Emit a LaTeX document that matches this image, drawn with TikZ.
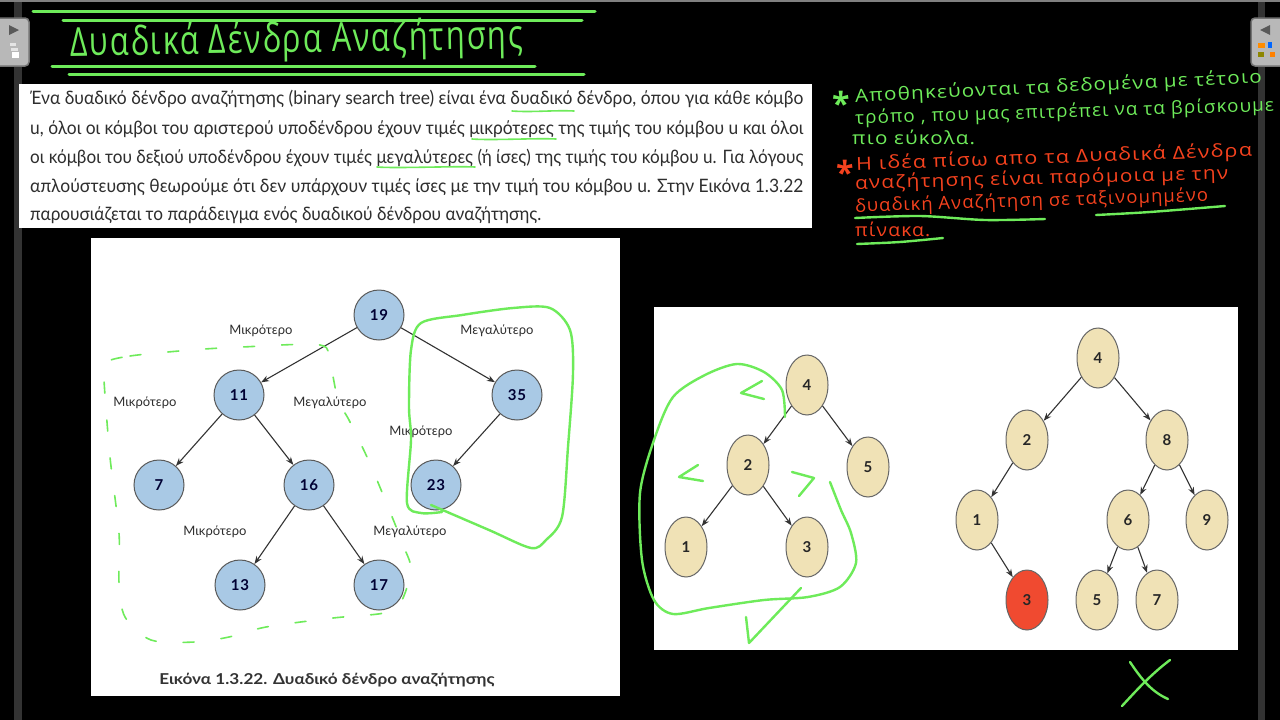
\documentclass[tikz,border=0pt]{standalone}
\usepackage{fontspec}
\usepackage{graphicx}
\setmainfont{Lato}
\newfontfamily\handfont[LetterSpace=6]{Open Sans}
\newfontfamily\numfont[LetterSpace=6]{Lato}
\usetikzlibrary{shapes.geometric, arrows.meta}
\definecolor{handgreen}{HTML}{6EEB5A}
\definecolor{handred}{HTML}{F5421E}
\definecolor{bluefill}{HTML}{A9C9E5}
\definecolor{beigefill}{HTML}{F0E2B6}
\definecolor{redfill}{HTML}{F04A30}
\definecolor{bodyink}{HTML}{2E2E2E}
\newcommand{\fitw}[2]{\resizebox{#1pt}{\height}{#2}}
\tikzset{
	panel/.style={fill=white, draw=none},
	bluenode/.style={circle, minimum size=50pt, inner sep=0pt, fill=bluefill, draw=black!65, line width=1pt, text=black!80!blue, font=\fontsize{15}{15}\numfont\bfseries},
	beigenode/.style={ellipse, minimum width=42pt, minimum height=60pt, inner sep=0pt, fill=beigefill, draw=black!60, line width=1pt, text=black!85, font=\fontsize{15}{15}\selectfont\bfseries},
	treearrow/.style={->, line width=1.1pt, draw=black!80},
	sidelabel/.style={inner sep=0pt, text=bodyink, font=\fontsize{13}{13}\selectfont},
	bodyline/.style={anchor=west, inner sep=0pt, text=bodyink, font=\fontsize{18.5}{18.5}\selectfont},
	handline/.style={anchor=west, inner sep=0pt, font=\fontsize{18}{18}\handfont},
	greenpen/.style={draw=handgreen, line width=2.4pt, line cap=round, line join=round},
	thinpen/.style={draw=handgreen, line width=1.6pt, line cap=round},
	tabbox/.style={fill=black!28, draw=black!55, line width=1.5pt, rounded corners=4pt}
}
\begin{document}
\begin{tikzpicture}[x=1pt, y=-1pt, >={Stealth[length=8pt,width=6pt]}]
	% background and frame of the screen
	\fill[black] (0,0) rectangle (1280,720);
	\useasboundingbox (0,0) rectangle (1280,720);
	\fill[black!50] (0,0) rectangle (1280,2);
	\fill[black!80] (14,2) rectangle (22,720);
	\fill[black!80] (1258,2) rectangle (1265,720);

	% side tabs
	\draw[tabbox] (-6,18) rectangle (29,66);
	\fill[black!65] (9,25) -- (19,30) -- (9,35) -- cycle;
	\fill[black!10] (10,43) rectangle (16,46);
	\fill[black!10] (11,48) rectangle (18,51);
	\fill[white] (12,52) rectangle (19,58);
	\draw[tabbox] (1251,18) rectangle (1286,66);
	\fill[black!65] (1270,25) -- (1260,30) -- (1270,35) -- cycle;
	\fill[orange!90!yellow] (1258,43) rectangle (1265,48);
	\fill[blue!60!cyan] (1268,42) rectangle (1272,48);
	\fill[olive] (1258,52) rectangle (1264,57);
	\fill[orange] (1270,52) rectangle (1275,57);

	% title
	\foreach \xa/\xb/\y in {33/595/11, 63/582/20, 52/535/66, 69/584/74}
		\draw[greenpen, line width=3pt] (\xa,\y) -- (\xb,\y);
	\node[handline, text=handgreen, font=\fontsize{40}{40}\handfont, rotate=1] (title) at (70,45) {\fitw{453}{Δυαδικά Δένδρα Αναζήτησης}};

	% definition text
	\fill[panel] (19,84) rectangle (812,228);
	\node[bodyline] (linea) at (30,99) {\fitw{773}{Ένα δυαδικό δένδρο αναζήτησης (binary search tree) είναι ένα δυαδικό δένδρο, όπου για κάθε κόμβο}};
	\node[bodyline] (lineb) at (30,129) {\fitw{773}{u, όλοι οι κόμβοι του αριστερού υποδένδρου έχουν τιμές μικρότερες της τιμής του κόμβου u και όλοι}};
	\node[bodyline] (linec) at (30,158) {\fitw{773}{οι κόμβοι του δεξιού υποδένδρου έχουν τιμές μεγαλύτερες (ή ίσες) της τιμής του κόμβου u. Για λόγους}};
	\node[bodyline] (lined) at (30,187) {\fitw{773}{απλούστευσης θεωρούμε ότι δεν υπάρχουν τιμές ίσες με την τιμή του κόμβου u. Στην Εικόνα 1.3.22}};
	\node[bodyline] (linee) at (30,215) {\fitw{511}{παρουσιάζεται το παράδειγμα ενός δυαδικού δένδρου αναζήτησης.}};
	\foreach \xa/\xb/\y in {512/574/111, 472/556/139, 377/475/167}
		\draw[thinpen] (\xa,\y) .. controls (\xa+20,\y+1.5) and (\xb-20,\y-1) .. (\xb,\y);

	% notes on the right
	\node[handline, text=handgreen, font=\fontsize{32}{32}\handfont\bfseries] (stara) at (832,103) {*};
	\node[handline, text=handgreen, rotate=2.7] (notea) at (855,97) {\fitw{407}{Αποθηκεύονται τα δεδομένα με τέτοιο}};
	\node[handline, text=handgreen, rotate=1.8] (noteb) at (855,119) {\fitw{419}{τρόπο , που μας επιτρέπει να τα βρίσκουμε}};
	\node[handline, text=handgreen] (notec) at (852,137) {\fitw{123}{πιο εύκολα.}};
	\node[handline, text=handred, font=\fontsize{32}{32}\handfont\bfseries] (starb) at (836,172) {*};
	\node[handline, text=handred, rotate=2] (noted) at (856,165) {\fitw{396}{Η ιδέα πίσω απο τα Δυαδικά Δένδρα}};
	\node[handline, text=handred, rotate=1.5] (notee) at (855,184) {\fitw{373}{αναζήτησης είναι παρόμοια με την}};
	\node[handline, text=handred, rotate=1.8] (notef) at (855,207) {\fitw{353}{δυαδική Αναζήτηση σε ταξινομημένο}};
	\node[handline, text=handred] (noteg) at (855,229) {\fitw{75}{πίνακα.}};
	\draw[greenpen] plot[smooth] coordinates {(855,218) (920,216) (985,220) (1045,219)};
	\draw[greenpen] plot[smooth] coordinates {(1096,215) (1150,212) (1225,206)};
	\draw[greenpen] plot[smooth] coordinates {(857,244) (900,242) (943,238)};

	% first figure
	\fill[panel] (91,238) rectangle (620,696);
	\foreach \name/\x/\y/\val in {nineteen/379/315/19, eleven/239/395/11, thirtyfive/517/395/35, seven/159/485/7, sixteen/309/485/16, twentythree/436/485/23, thirteen/240/585/13, seventeen/379/585/17}
		\node[bluenode] (\name) at (\x,\y) {\val};
	\foreach \a/\b in {nineteen/eleven, nineteen/thirtyfive, eleven/seven, eleven/sixteen, thirtyfive/twentythree, sixteen/thirteen, sixteen/seventeen}
		\draw[treearrow] (\a) -- (\b);
	\foreach \name/\x/\y in {lessa/261/331, lessb/145/403, lessc/421/432, lessd/215/532}
		\node[sidelabel] (\name) at (\x,\y) {Μικρότερο};
	\foreach \name/\x/\y in {morea/497/331, moreb/330/403, morec/410/532}
		\node[sidelabel] (\name) at (\x,\y) {Μεγαλύτερο};
	\node[inner sep=0pt, text=black!80, font=\fontsize{15}{15}\selectfont\bfseries] (caption) at (327,680) {\fitw{335}{Εικόνα 1.3.22. Δυαδικό δένδρο αναζήτησης}};
	\draw[greenpen] plot[smooth] coordinates {(442,512) (421,513) (407,503) (411,440) (409,407) (411,350) (421,323) (462,315) (513,308) (550,308) (570,330) (573,373) (568,447) (562,517) (546,540) (531,548) (489,530) (431,505)};
	\draw[thinpen, dash pattern=on 11pt off 27pt] plot[smooth cycle] coordinates {(105,363) (130,356) (191,350) (242,347) (320,345) (330,363) (338,400) (349,420) (367,457) (384,497) (404,547) (411,570) (401,602) (384,613) (333,618) (266,627) (229,637) (195,642) (151,640) (125,617) (119,583) (119,533) (110,457) (104,380)};

	% second figure
	\fill[panel] (654,307) rectangle (1238,650);
	\foreach \name/\x/\y/\val in {lroot/807/385/4, ltwo/748/465/2, lfive/868/467/5, lone/686/547/1, lthree/807/547/3, rroot/1098/358/4, rtwo/1027/440/2, reight/1167/440/8, rone/977/520/1, rsix/1128/520/6, rnine/1207/520/9, rfive/1097/600/5, rseven/1157/600/7}
		\node[beigenode] (\name) at (\x,\y) {\val};
	\node[beigenode, fill=redfill] (rthree) at (1027,600) {3};
	\foreach \a/\b in {lroot/ltwo, lroot/lfive, ltwo/lone, ltwo/lthree, rroot/rtwo, rroot/reight, rtwo/rone, rone/rthree, reight/rsix, reight/rnine, rsix/rfive, rsix/rseven}
		\draw[treearrow] (\a) -- (\b);
	\draw[greenpen] plot[smooth] coordinates {(785,417) (782,390) (764,372) (737,364) (705,375) (673,397) (654,440) (640,493) (642,560) (654,600) (673,614) (709,608) (764,600) (808,597) (840,587) (856,563) (851,533) (841,510) (830,482)};
	\draw[greenpen] (801,588) -- (749,643) -- (746,617);
	\draw[greenpen] (764,399) -- (741,393) -- (762,381);
	\draw[greenpen] (703,481) -- (679,477) -- (698,465);
	\draw[greenpen] (792,472) -- (814,478) -- (799,496);
	\draw[greenpen] (1130,662) .. controls (1142,680) and (1152,692) .. (1168,699);
	\draw[greenpen] (1170,660) .. controls (1150,675) and (1135,692) .. (1122,706);
\end{tikzpicture}
\end{document}
